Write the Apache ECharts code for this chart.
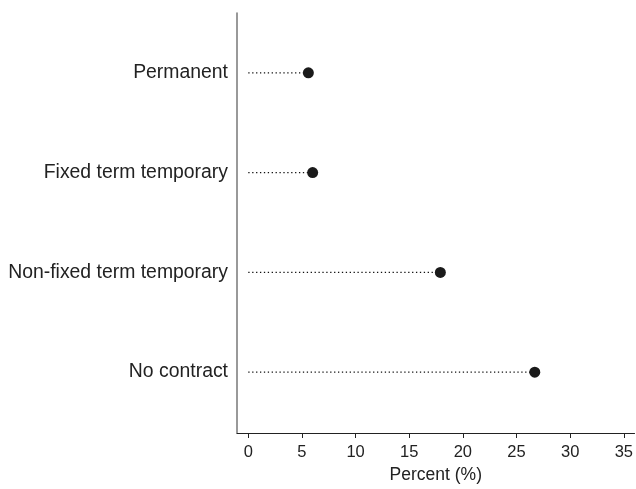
<!DOCTYPE html>
<html><head><meta charset="utf-8">
<script src="https://cdn.jsdelivr.net/npm/echarts@6/dist/echarts.min.js"></script>
<style>html,body{margin:0;padding:0;background:#fff}#c{width:636px;height:489px}</style>
</head><body><div id="c"></div>
<script>
const categories = ["No contract", "Non-fixed term temporary", "Fixed term temporary", "Permanent"];
const values = [26.7, 17.9, 6.0, 5.6];
const xTicks = [0, 5, 10, 15, 20, 25, 30, 35];
const yPos = [1, 2, 3, 4];

const pts = values.map((v, i) => [v, yPos[i]]);
const chart = echarts.init(document.getElementById('c'));
chart.setOption({
  animation: false,
  grid: {left: 237, right: 0, top: 13, bottom: 56},
  xAxis: {
    type: 'value', min: -1.05, max: 36,
    name: 'Percent (%)', nameLocation: 'middle', nameGap: 32,
    nameTextStyle: {fontFamily: 'Liberation Sans', fontSize: 17.5, color: '#222'},
    axisLine: {show: true, onZero: false, lineStyle: {color: '#222', width: 1}},
    axisTick: {show: true, length: 5, customValues: xTicks, lineStyle: {color: '#222'}},
    axisLabel: {customValues: xTicks, fontFamily: 'Liberation Sans', fontSize: 16.5, color: '#222', margin: 11},
    splitLine: {show: false}
  },
  yAxis: {
    type: 'value', min: 0.39, max: 4.6,
    axisLine: {show: true, onZero: false, lineStyle: {color: '#777', width: 1.5}},
    axisTick: {show: false},
    axisLabel: {customValues: yPos, formatter: v => categories[Math.round(v) - 1] || '',
      fontFamily: 'Liberation Sans', fontSize: 19.4, color: '#222', margin: 9},
    splitLine: {show: false}
  },
  series: [
    {
      type: 'custom',
      data: pts,
      renderItem: function (params, api) {
        const a = api.coord([0, api.value(1)]);
        const b = api.coord([api.value(0), api.value(1)]);
        return {type: 'line', shape: {x1: a[0], y1: a[1], x2: b[0], y2: b[1]},
          style: {stroke: '#111', lineWidth: 1.4, lineDash: [1.3, 2.6]}};
      },
      z: 1
    },
    {
      type: 'scatter', data: pts, symbolSize: 11,
      itemStyle: {color: '#1a1a1a', opacity: 1}, z: 2
    }
  ]
});
</script></body></html>
